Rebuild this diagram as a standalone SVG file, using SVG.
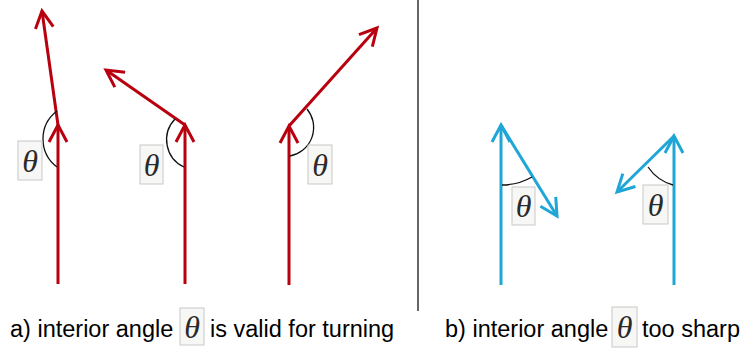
<svg xmlns="http://www.w3.org/2000/svg" width="741" height="350" viewBox="0 0 741 350">
<style>
.red{stroke:#b8000e;stroke-width:3;fill:none}
.blue{stroke:#1fa6d6;stroke-width:3;fill:none}
.arc{stroke:#111;stroke-width:1.3;fill:none}
.box{fill:#f7f7f5;stroke:#c8c8c8;stroke-width:1}
.th{font-family:"Liberation Serif",serif;font-style:italic;font-size:32px;fill:#2a2a2a;text-anchor:middle}
.cap{font-family:"Liberation Sans",Arial,sans-serif;font-size:23.5px;fill:#000}
</style>
<defs>
<marker id="hr" viewBox="-20 -11 24 22" refX="0" refY="0" markerWidth="24" markerHeight="22" markerUnits="userSpaceOnUse" orient="auto" overflow="visible">
<path d="M-17,-9 L0,0 L-17,9" fill="none" stroke="#b8000e" stroke-width="3"/>
</marker>
<marker id="hb" viewBox="-20 -11 24 22" refX="0" refY="0" markerWidth="24" markerHeight="22" markerUnits="userSpaceOnUse" orient="auto" overflow="visible">
<path d="M-17,-9 L0,0 L-17,9" fill="none" stroke="#1fa6d6" stroke-width="3"/>
</marker>
</defs>
<rect width="741" height="350" fill="#fff"/>
<g id="connectors">
<line class="red" x1="58" y1="284" x2="58" y2="125" marker-end="url(#hr)"/>
<line class="red" x1="58" y1="125" x2="42" y2="11" marker-end="url(#hr)"/>
<line class="red" x1="185" y1="284" x2="185" y2="125" marker-end="url(#hr)"/>
<line class="red" x1="185" y1="125" x2="106" y2="70" marker-end="url(#hr)"/>
<line class="red" x1="289" y1="285" x2="289" y2="126" marker-end="url(#hr)"/>
<line class="red" x1="289" y1="126" x2="377" y2="28" marker-end="url(#hr)"/>
<line class="blue" x1="501" y1="285" x2="501" y2="125" marker-end="url(#hb)"/>
<line class="blue" x1="501" y1="125" x2="557" y2="216" marker-end="url(#hb)"/>
<line class="blue" x1="674" y1="285" x2="674" y2="136" marker-end="url(#hb)"/>
<line class="blue" x1="674" y1="136" x2="617" y2="192" marker-end="url(#hb)"/>
<path class="arc" d="M57,111 A35 35 0 0 0 57,167"/>
<path class="arc" d="M175,119 A30 30 0 0 0 184,167"/>
<path class="arc" d="M307,109 A29 29 0 0 1 290,156"/>
<path class="arc" d="M502,185 A60 60 0 0 0 532,177"/>
<path class="arc" d="M648,167 A45 45 0 0 0 673,185"/>
<line x1="418" y1="0" x2="418" y2="311" stroke="#333" stroke-width="1.5"/>
</g>
<g id="theta1"><rect class="box" x="18" y="141" width="24" height="39"/><text class="th" x="30" y="172">θ</text></g>
<g id="theta2"><rect class="box" x="140" y="145" width="23" height="39"/><text class="th" x="151.5" y="176">θ</text></g>
<g id="theta3"><rect class="box" x="308" y="145" width="24" height="39"/><text class="th" x="320" y="176">θ</text></g>
<g id="theta4"><rect class="box" x="512" y="187" width="23" height="38"/><text class="th" x="523.5" y="217">θ</text></g>
<g id="theta5"><rect class="box" x="643" y="185" width="25" height="39"/><text class="th" x="655.5" y="216">θ</text></g>
<g id="caption-a">
<text class="cap" x="10" y="337">a) interior angle</text>
<rect class="box" x="180" y="308" width="24" height="37"/><text class="th" x="192" y="338">θ</text>
<text class="cap" x="210" y="337">is valid for turning</text>
</g>
<g id="caption-b">
<text class="cap" x="445" y="337">b) interior angle</text>
<rect class="box" x="612" y="307" width="25" height="40"/><text class="th" x="624.5" y="338">θ</text>
<text class="cap" x="642" y="337">too sharp</text>
</g>
</svg>
